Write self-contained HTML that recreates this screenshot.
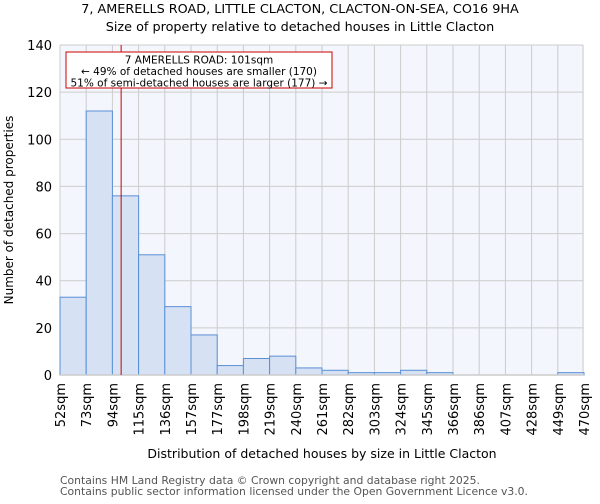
<!DOCTYPE html>
<html><head><meta charset="utf-8"><style>
body{margin:0;background:#fff;font-family:"DejaVu Sans","Liberation Sans",sans-serif}
svg text{font-family:"DejaVu Sans","Liberation Sans",sans-serif}
</style></head><body>
<svg id="c" width="600" height="500" xmlns="http://www.w3.org/2000/svg">
<text x="300" y="13" text-anchor="middle" font-size="12.8" fill="#000">7, AMERELLS ROAD, LITTLE CLACTON, CLACTON-ON-SEA, CO16 9HA</text>
<text x="300" y="31" text-anchor="middle" font-size="12.8" fill="#000">Size of property relative to detached houses in Little Clacton</text>
<rect x="60" y="45" width="524" height="330" fill="#f3f6fd"/>
<g id="grid"></g><g id="bars"></g><g id="axes"></g>
<text transform="translate(13,210) rotate(-90)" text-anchor="middle" font-size="12">Number of detached properties</text>
<text x="322" y="458" text-anchor="middle" font-size="12.5">Distribution of detached houses by size in Little Clacton</text>
<text x="60" y="484" font-size="10.8" fill="#555">Contains HM Land Registry data © Crown copyright and database right 2025.</text>
<text x="60" y="495" font-size="10.8" fill="#555">Contains public sector information licensed under the Open Government Licence v3.0.</text>
</svg>
<script>
const binLabels=["52sqm","73sqm","94sqm","115sqm","136sqm","157sqm","177sqm","198sqm","219sqm","240sqm","261sqm","282sqm","303sqm","324sqm","345sqm","366sqm","386sqm","407sqm","428sqm","449sqm","470sqm"];
const binEdges=[52,73,94,115,136,157,177,198,219,240,261,282,303,324,345,366,386,407,428,449,470];
const counts=[33,112,76,51,29,17,4,7,8,3,2,1,1,2,1,0,0,0,0,1];
const yTicks=[0,20,40,60,80,100,120,140];
const propertySize=101;
const NS="http://www.w3.org/2000/svg";
const x0=60,x1=584,yB=375,yT=45,yMax=140;
const bw=(x1-x0)/counts.length;
const xIdx=i=>x0+i*bw;
const xVal=v=>{for(let i=0;i<binEdges.length-1;i++){if(v<=binEdges[i+1])return xIdx(i)+(v-binEdges[i])/(binEdges[i+1]-binEdges[i])*bw;}return x1;};
const y=v=>yB-(v/yMax)*(yB-yT);
function mk(t,a,p){const e=document.createElementNS(NS,t);for(const k in a)e.setAttribute(k,a[k]);p.appendChild(e);return e;}
const g=document.getElementById('grid'),b=document.getElementById('bars'),ax=document.getElementById('axes');
yTicks.forEach(t=>{
const l=mk('line',{x1:x0,x2:x1-1,y1:y(t),y2:y(t),stroke:'#ccc','stroke-width':1},g);


const tx=mk('text',{x:52,y:y(t)+5,'text-anchor':'end','font-size':13},ax);tx.textContent=t;


});
binLabels.forEach((s,i)=>{
const l=mk('line',{x1:Math.min(xIdx(i),x1-1),x2:Math.min(xIdx(i),x1-1),y1:yT,y2:yB,stroke:'#ccc','stroke-width':1},g);


const tx=mk('text',{transform:`translate(${xIdx(i)+5},${yB+8}) rotate(-90)`,'text-anchor':'end','font-size':13},ax);tx.textContent=s;


});
counts.forEach((c,i)=>{
if(c<=0)return;
const r=mk('rect',{x:xIdx(i),y:y(c),width:bw,height:yB-y(c),fill:'#d6e1f4',stroke:'#5a8fd6','stroke-width':1},b);


});
const base=mk('line',{x1:x0,x2:x1,y1:yB,y2:yB,stroke:'#ccc','stroke-width':1.5},ax);


const px=xVal(propertySize);
const ml=mk('line',{x1:px,x2:px,y1:yT,y2:yB,stroke:'#c00','stroke-width':1},ax);


const box=mk('rect',{x:66,y:52,width:266,height:36,fill:'#fff',stroke:'#c00','stroke-width':1},ax);


["7 AMERELLS ROAD: 101sqm","← 49% of detached houses are smaller (170)","51% of semi-detached houses are larger (177) →"].forEach((s,i)=>{
const t=mk('text',{x:199,y:63.5+i*11.5,'text-anchor':'middle','font-size':10.5},ax);t.textContent=s;


});
</script>
</body></html>
